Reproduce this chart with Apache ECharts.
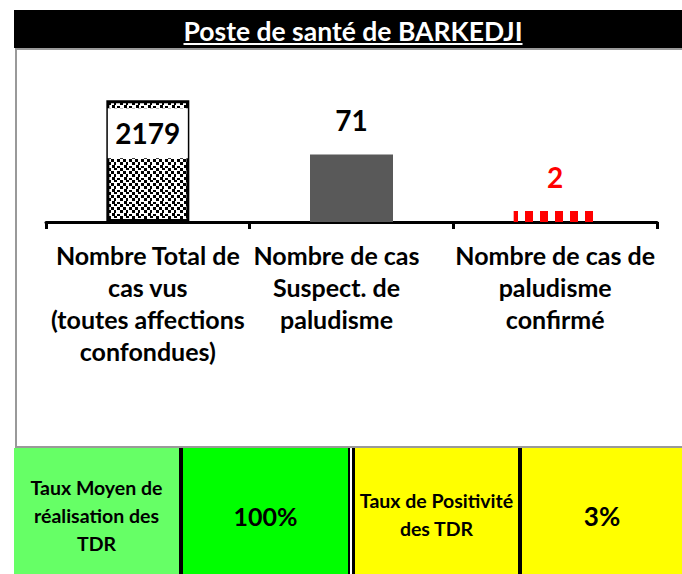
<!DOCTYPE html>
<html>
<head>
<meta charset="utf-8">
<script src="https://cdn.jsdelivr.net/npm/echarts@6/dist/echarts.min.js"></script>
<style>
html,body{margin:0;padding:0;background:#fff;}
#c{width:682px;height:574px;}
</style>
</head>
<body>
<div id="c"></div>
<script>
// ---- data ----
const titleText = 'Poste de santé de BARKEDJI';
const categories = [
  'Nombre Total de\ncas vus\n(toutes affections\nconfondues)',
  'Nombre de cas\nSuspect. de\npaludisme',
  'Nombre de cas de\npaludisme\nconfirmé'
];
const values = [2179, 71, 2];
const kpiLabels = ['Taux Moyen de\nréalisation des\nTDR', 'Taux de Positivité\ndes TDR'];
const kpiValues = ['100%', '3%'];

// ---- patterns ----
function makeTile(w, h, bg, fg, rects) {
  const cv = document.createElement('canvas');
  cv.width = w; cv.height = h;
  const ctx = cv.getContext('2d');
  if (bg) { ctx.fillStyle = bg; ctx.fillRect(0, 0, w, h); }
  ctx.fillStyle = fg;
  rects.forEach(r => ctx.fillRect(r[0], r[1], r[2], r[3]));
  return cv;
}
const confetti = makeTile(12, 12, '#ffffff', '#000000',
  [[0,0,3,3],[6,0,3,2],[3,3,3,3],[9,3,3,3],[0,6,3,3],[6,6,2,3],[4,9,3,3],[9,10,3,2]]);
const redDash = makeTile(15, 40, null, '#ff0000', [[0,0,8,40]]);

const FONT = 'Lato, "Open Sans", sans-serif';

// measure title for underline
const TITLE_SIZE = 26.5;
const mctx = document.createElement('canvas').getContext('2d');
mctx.font = 'bold ' + TITLE_SIZE + 'px Lato';
const titleW = mctx.measureText(titleText).width;
const titleCx = 353;

const barStyles = [
  { color: { image: confetti, repeat: 'repeat' }, borderColor: '#000', borderWidth: 3 },
  { color: '#595959' },
  { color: { image: redDash, repeat: 'repeat' } }
];
const barLabels = [
  { show: true, position: 'insideTop', distance: 8, backgroundColor: '#fff',
    width: 80, padding: [11, 0, 11, 0], lineHeight: 28, align: 'center',
    fontSize: 28, fontWeight: 'bold', color: '#000', fontFamily: FONT },
  { show: true, position: 'top', distance: 20, fontSize: 28, fontWeight: 'bold', color: '#000', fontFamily: FONT },
  { show: true, position: 'top', distance: 20, fontSize: 28, fontWeight: 'bold', color: '#ff0000', fontFamily: FONT }
];

const catData = categories.map((c, i) => i === 1
  ? { value: c, textStyle: { padding: [0, 30, 0, 0] } }
  : c);

// bottom table geometry
const rowTop = 448, rowH = 126;
const cells = [
  { x: 14, w: 165, fill: '#66ff66' },
  { x: 183, w: 165, fill: '#00ff00' },
  { x: 355, w: 163, fill: '#ffff00' },
  { x: 522, w: 160, fill: '#ffff00' }
];
const graphics = [
  { type: 'rect', shape: { x: 14, y: 10, width: 668, height: 38 }, style: { fill: '#000' }, z: 10 },
  { type: 'text', x: titleCx, y: 31, z: 11,
    style: { text: titleText, fill: '#fff', font: 'bold ' + TITLE_SIZE + 'px ' + FONT, align: 'center', verticalAlign: 'middle' } },
  { type: 'line', z: 11, shape: { x1: titleCx - titleW / 2, y1: 44, x2: titleCx + titleW / 2, y2: 44 },
    style: { stroke: '#fff', lineWidth: 2 } },
  { type: 'rect', z: 1, shape: { x: 16, y: 49, width: 700, height: 398 },
    style: { fill: 'none', stroke: '#999', lineWidth: 2 } },
  { type: 'rect', z: 10, shape: { x: 14, y: rowTop, width: 668, height: rowH }, style: { fill: '#000' } }
];
cells.forEach(c => graphics.push({ type: 'rect', z: 11,
  shape: { x: c.x, y: rowTop, width: c.w, height: rowH }, style: { fill: c.fill } }));
graphics.push({ type: 'rect', z: 11, shape: { x: 350, y: rowTop, width: 2, height: rowH }, style: { fill: '#ffffff' } });
graphics.push({ type: 'text', z: 12, x: cells[0].x + cells[0].w / 2, y: 515,
  style: { text: kpiLabels[0], fill: '#000', font: 'bold 19.5px ' + FONT, lineHeight: 28, align: 'center', verticalAlign: 'middle' } });
graphics.push({ type: 'text', z: 12, x: cells[1].x + cells[1].w / 2, y: 516,
  style: { text: kpiValues[0], fill: '#000', font: 'bold 25px ' + FONT, align: 'center', verticalAlign: 'middle' } });
graphics.push({ type: 'text', z: 12, x: cells[2].x + cells[2].w / 2, y: 514,
  style: { text: kpiLabels[1], fill: '#000', font: 'bold 19.5px ' + FONT, lineHeight: 28, align: 'center', verticalAlign: 'middle' } });
graphics.push({ type: 'text', z: 12, x: cells[3].x + cells[3].w / 2, y: 516,
  style: { text: kpiValues[1], fill: '#000', font: 'bold 26px ' + FONT, align: 'center', verticalAlign: 'middle' } });

const chart = echarts.init(document.getElementById('c'), null, { renderer: 'svg' });
chart.setOption({
  animation: false,
  backgroundColor: '#fff',
  grid: { left: 46, right: 25, top: 76, bottom: 352, containLabel: false },
  xAxis: {
    type: 'category',
    data: catData,
    boundaryGap: true,
    axisLine: { lineStyle: { color: '#000', width: 3 } },
    axisTick: { show: true, length: 7, lineStyle: { color: '#000', width: 3 } },
    axisLabel: { interval: 0, color: '#000', fontFamily: FONT, fontWeight: 'bold',
      fontSize: 25, lineHeight: 32, margin: 17 }
  },
  yAxis: { type: 'log', logBase: 10, min: 1, max: 10000, show: false, splitLine: { show: false } },
  series: [{
    type: 'bar',
    barWidth: 83,
    data: values.map((v, i) => ({ value: v, itemStyle: barStyles[i], label: barLabels[i] }))
  }],
  graphic: graphics
});
</script>
</body>
</html>
